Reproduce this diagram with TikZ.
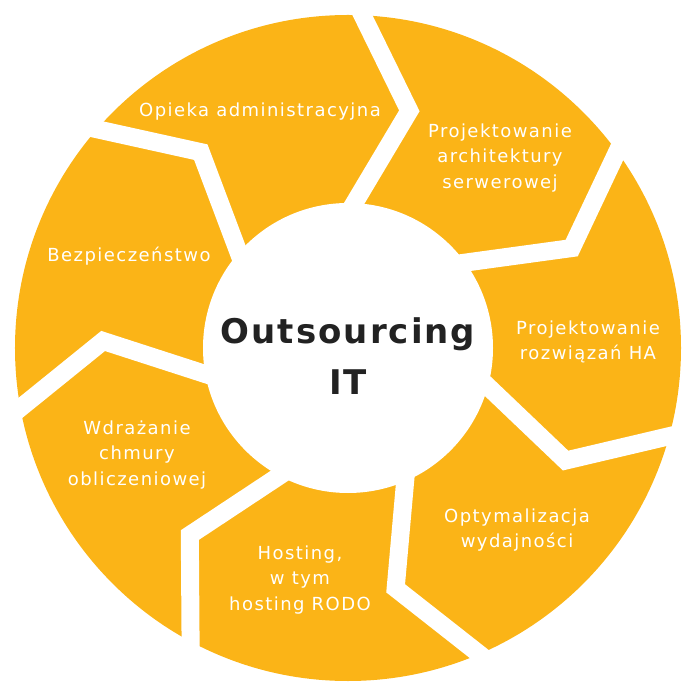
\documentclass[tikz,border=0pt]{standalone}
\usepackage{fontspec}
\setmainfont{DejaVu Sans}
\newfontfamily\segfont[LetterSpace=8]{DejaVu Sans}
\newfontfamily\hubfont[LetterSpace=6]{DejaVu Sans}
\definecolor{ringamber}{HTML}{FBB417}
\definecolor{hubink}{HTML}{222222}

\begin{document}
\begin{tikzpicture}[x=1pt, y=1pt,
    ring/.style={fill=ringamber, draw=none},
    hub/.style={fill=white, draw=none},
    divider/.style={draw=white, line width=18pt, line join=miter, miter limit=10},
    seglabel/.style={text=white, align=center, inner sep=0pt, font=\segfont\fontsize{18}{25.5}\selectfont},
    hubtitle/.style={text=hubink, align=center, inner sep=0pt, font=\hubfont\bfseries\fontsize{34}{51}\selectfont},
  ]
  \useasboundingbox (-348, -352) rectangle (352, 348);

  % ring radii and the bend of each divider
  \pgfmathsetmacro{\outerr}{333}
  \pgfmathsetmacro{\innerr}{145}
  \pgfmathsetmacro{\bendr}{245}

  \fill[ring] (0, 0) circle (\outerr);

  % seven chevron dividers, pointing clockwise
  \foreach \k in {0,...,6} {
    \pgfmathsetmacro{\ang}{87.5 - 51.4286*\k}
    \draw[divider, shorten <=-20pt, shorten >=-30pt]
      (\ang:\outerr) -- ({\ang - 12}:\bendr) -- (\ang:\innerr);
  }

  \fill[hub] (0, 0) circle (\innerr);

  % hub
  \node[hubtitle] (hub) at (0, -8) {Outsourcing\\IT};

  % segment labels
  \node[seglabel] (admin) at (-88, 236) {Opieka administracyjna};
  \node[seglabel] (arch) at (152, 190) {Projektowanie\\architektury\\serwerowej};
  \node[seglabel] (ha) at (240, 6) {Projektowanie\\rozwiązań HA};
  \node[seglabel] (perf) at (169, -182) {Optymalizacja\\wydajności};
  \node[seglabel] (host) at (-48, -232) {Hosting,\\w tym\\hosting RODO};
  \node[seglabel] (cloud) at (-211, -107) {Wdrażanie\\chmury\\obliczeniowej};
  \node[seglabel] (sec) at (-219, 92) {Bezpieczeństwo};
\end{tikzpicture}
\end{document}
